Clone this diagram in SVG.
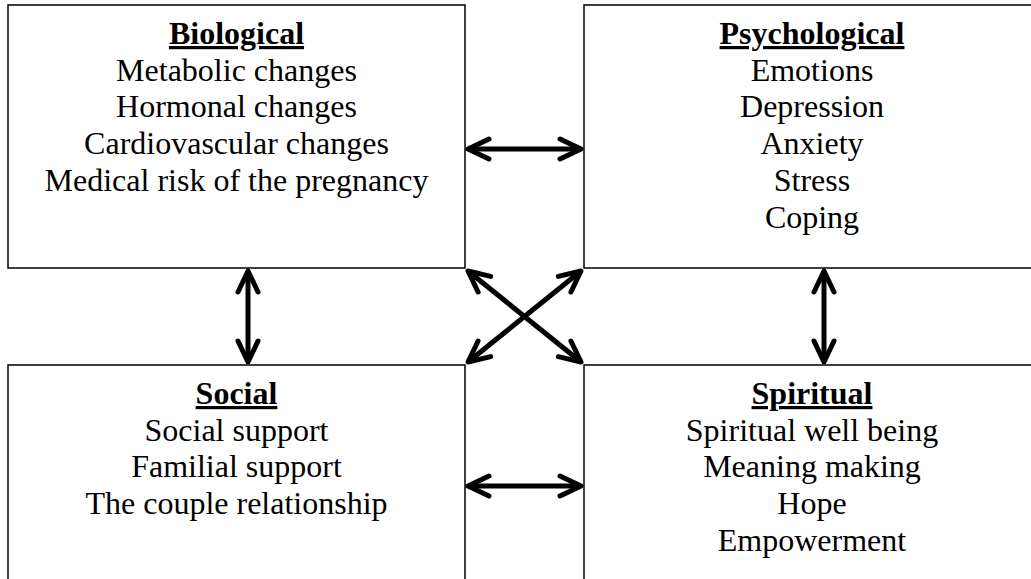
<svg xmlns="http://www.w3.org/2000/svg" width="1031" height="579" viewBox="0 0 1031 579">
<style>
.box{fill:#fff;stroke:#000;stroke-width:1.5}
.tx{font-family:'Liberation Serif','Times New Roman',Times,serif;font-size:32px;fill:#000;text-anchor:middle}
.t{font-weight:bold;text-decoration:underline}
.c{stroke:#000;stroke-width:5;fill:none}
</style>
<defs>
<marker id="ah" viewBox="-28 -15 32 30" refX="0" refY="0" markerWidth="32" markerHeight="30" markerUnits="userSpaceOnUse" orient="auto-start-reverse">
<path d="M -21 -10 L 0 0 L -21 10" fill="none" stroke="#000" stroke-width="5" stroke-linecap="round" stroke-linejoin="round"/>
</marker>
</defs>
<rect width="1031" height="579" fill="#fff"/>
<g id="biological" class="tx">
<rect class="box" x="8" y="5" width="457" height="263"/>
<text x="236.5" y="44" class="t">Biological</text>
<text x="236.5" y="81">Metabolic changes</text>
<text x="236.5" y="117">Hormonal changes</text>
<text x="236.5" y="154">Cardiovascular changes</text>
<text x="236.5" y="191">Medical risk of the pregnancy</text>
</g>
<g id="psychological" class="tx">
<rect class="box" x="584" y="5" width="456" height="263"/>
<text x="812" y="44" class="t">Psychological</text>
<text x="812" y="81">Emotions</text>
<text x="812" y="117">Depression</text>
<text x="812" y="154">Anxiety</text>
<text x="812" y="191">Stress</text>
<text x="812" y="228">Coping</text>
</g>
<g id="social" class="tx">
<rect class="box" x="8" y="365" width="457" height="230"/>
<text x="236.5" y="404" class="t">Social</text>
<text x="236.5" y="441">Social support</text>
<text x="236.5" y="477">Familial support</text>
<text x="236.5" y="514">The couple relationship</text>
</g>
<g id="spiritual" class="tx">
<rect class="box" x="584" y="365" width="456" height="230"/>
<text x="812" y="404" class="t">Spiritual</text>
<text x="812" y="441">Spiritual well being</text>
<text x="812" y="477">Meaning making</text>
<text x="812" y="514">Hope</text>
<text x="812" y="551">Empowerment</text>
</g>
<g id="connectors">
<line class="c" x1="468" y1="149" x2="581" y2="149" marker-start="url(#ah)" marker-end="url(#ah)"/>
<line class="c" x1="468" y1="486" x2="581" y2="486" marker-start="url(#ah)" marker-end="url(#ah)"/>
<line class="c" x1="248" y1="271" x2="248" y2="362" marker-start="url(#ah)" marker-end="url(#ah)"/>
<line class="c" x1="824" y1="271" x2="824" y2="362" marker-start="url(#ah)" marker-end="url(#ah)"/>
<line class="c" x1="468" y1="271" x2="581" y2="362" marker-start="url(#ah)" marker-end="url(#ah)"/>
<line class="c" x1="581" y1="271" x2="468" y2="362" marker-start="url(#ah)" marker-end="url(#ah)"/>
</g>
</svg>
